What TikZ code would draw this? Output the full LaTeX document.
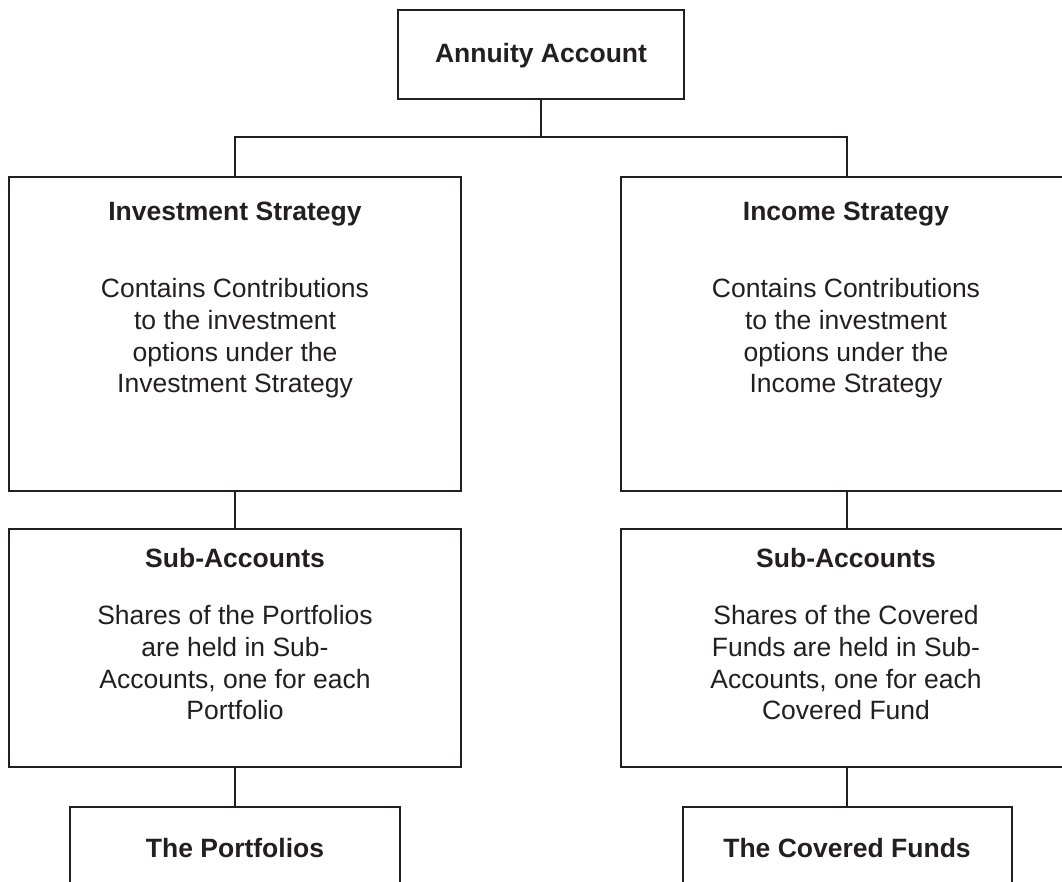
\documentclass[tikz,border=0pt]{standalone}
\usepackage{fontspec}
\setmainfont{Liberation Sans}
\usepackage{tikz}
\definecolor{ink}{RGB}{35,31,32}

\begin{document}
\begin{tikzpicture}[x=1pt, y=-1pt, color=ink, line width=2pt,
    font=\fontsize{26.5}{31.7}\selectfont,
    box/.style={draw, rectangle, inner sep=0pt, outer sep=0pt},
    heading/.style={font=\fontsize{26.5}{31.7}\selectfont\bfseries, anchor=base, inner sep=0pt},
    blurb/.style={align=center, anchor=north, inner sep=0pt}]

\useasboundingbox (0,0) rectangle (1062,882);
\clip (0,0) rectangle (1062,882);

% ---- Top ----------------------------------------------------------------
\node[box, minimum width=286pt, minimum height=89pt] (acct) at (541,54.5) {};
\node[heading] (acct-title) at (541,63) {Annuity Account};

% ---- Strategies ---------------------------------------------------------
\node[box, minimum width=452pt, minimum height=314pt] (invest) at (235,334) {};
\node[heading] (invest-title) at (235,221) {Investment Strategy};
\node[blurb] (invest-text) at (235,277.5)
  {Contains Contributions\\to the investment\\options under the\\Investment Strategy};

\node[box, minimum width=452pt, minimum height=314pt] (income) at (847,334) {};
\node[heading] (income-title) at (846,221) {Income Strategy};
\node[blurb] (income-text) at (846,277.5)
  {Contains Contributions\\to the investment\\options under the\\Income Strategy};

% ---- Sub-accounts -------------------------------------------------------
\node[box, minimum width=452pt, minimum height=238pt] (subinv) at (235,648) {};
\node[heading] (subinv-title) at (235,567) {Sub-Accounts};
\node[blurb] (subinv-text) at (235,604.5)
  {Shares of the Portfolios\\are held in Sub-\\Accounts, one for each\\Portfolio};

\node[box, minimum width=452pt, minimum height=238pt] (subinc) at (847,648) {};
\node[heading] (subinc-title) at (846,567) {Sub-Accounts};
\node[blurb] (subinc-text) at (846,604.5)
  {Shares of the Covered\\Funds are held in Sub-\\Accounts, one for each\\Covered Fund};

% ---- Underlying funds ---------------------------------------------------
\node[box, minimum width=330pt, minimum height=120pt] (port) at (235,867) {};
\node[heading] (port-title) at (235,857) {The Portfolios};

\node[box, minimum width=329pt, minimum height=120pt] (fund) at (847,867) {};
\node[heading] (fund-title) at (847,857) {The Covered Funds};

% ---- Connectors ---------------------------------------------------------
\coordinate (split) at (541,137);
\draw (acct.south) -- (split);
\draw (invest.north) |- (split) -| (income.north);
\draw (invest.south) -- (subinv.north);
\draw (income.south) -- (subinc.north);
\draw (subinv.south) -- (port.north);
\draw (subinc.south) -- (fund.north);

\end{tikzpicture}
\end{document}
